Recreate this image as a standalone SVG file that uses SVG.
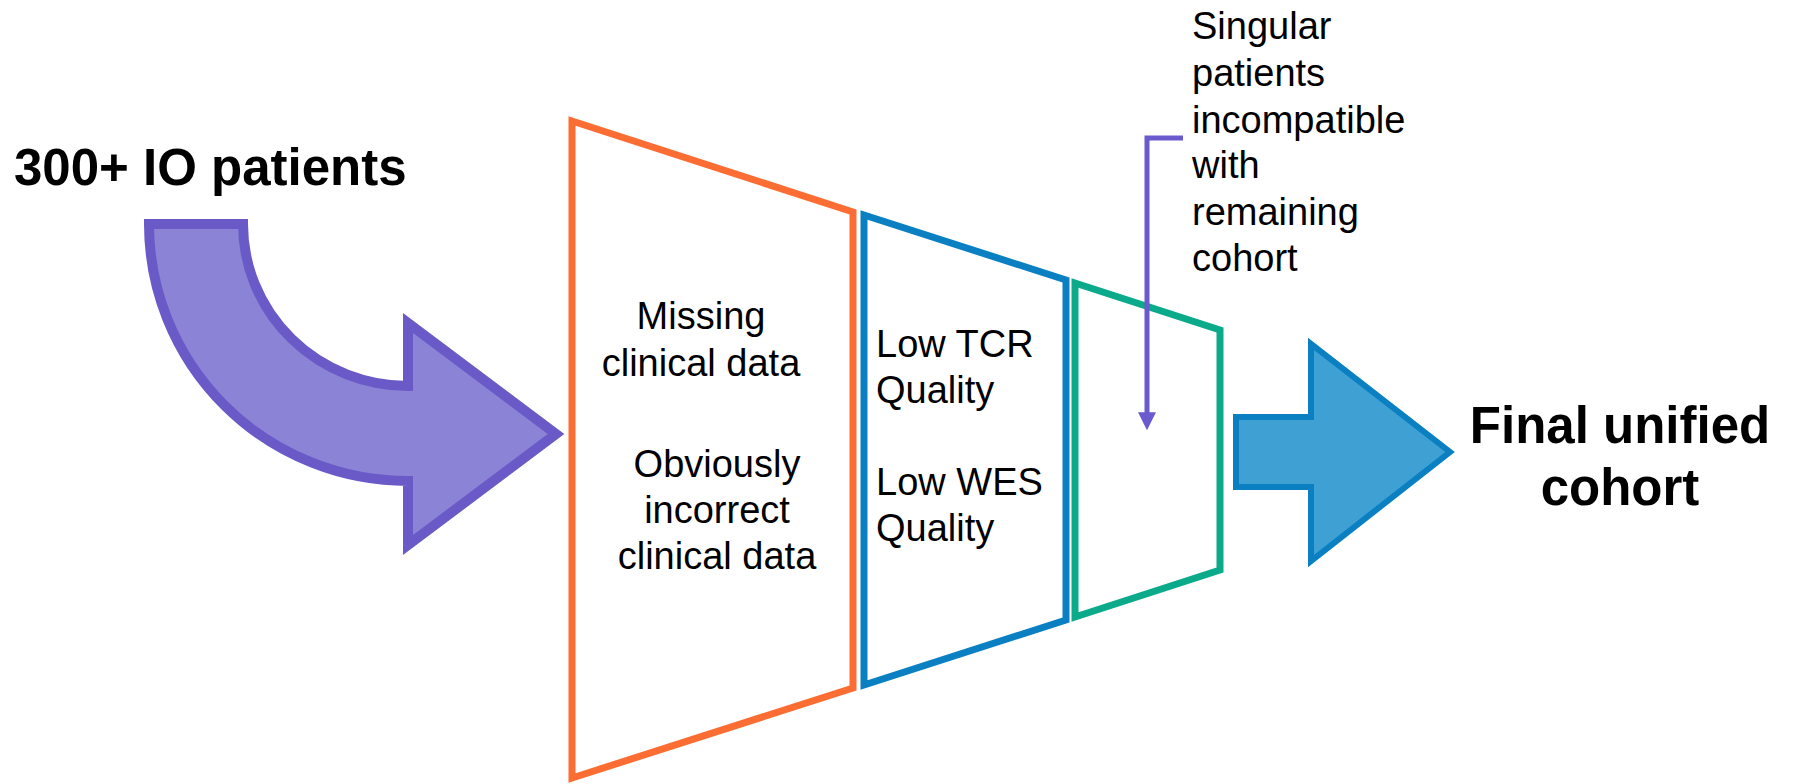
<svg xmlns="http://www.w3.org/2000/svg" width="1794" height="784" viewBox="0 0 1794 784">
  <style>
    .lbl { font-family: "Liberation Sans", Arial, sans-serif; font-size: 38px; fill: #000; }
    .title { font-family: "Liberation Sans", Arial, sans-serif; font-size: 51px; font-weight: bold; fill: #000; }
    .stage { fill: #fff; stroke-width: 7; stroke-linejoin: miter; }
  </style>
  <defs>
    <marker id="tip" viewBox="0 0 10 10" refX="1" refY="5" markerWidth="18" markerHeight="18" markerUnits="userSpaceOnUse" orient="auto">
      <path d="M0,0 L10,5 L0,10 Z" fill="#6A5ACD"/>
    </marker>
  </defs>
  <rect width="1794" height="784" fill="#fff"/>

  <!-- input: curved arrow with title -->
  <g id="input">
    <text class="title" x="14" y="185">300+ IO patients</text>
    <path d="M149,224 L243,224 A165,162 0 0 0 408,386 L408,323 L556,434 L408,545 L408,481 A259,257 0 0 1 149,224 Z" fill="#8B84D6" stroke="#6A5AC8" stroke-width="10" stroke-linejoin="miter"/>
  </g>

  <!-- stage 1: clinical data filters -->
  <g id="stage-clinical">
    <polygon class="stage" points="572,121 853,212 853,688 572,778" stroke="#FB6D33"/>
    <text class="lbl" text-anchor="middle" x="701" y="329">Missing</text>
    <text class="lbl" text-anchor="middle" x="701" y="376">clinical data</text>
    <text class="lbl" text-anchor="middle" x="717" y="477">Obviously</text>
    <text class="lbl" text-anchor="middle" x="717" y="523">incorrect</text>
    <text class="lbl" text-anchor="middle" x="717" y="569">clinical data</text>
  </g>

  <!-- stage 2: sequencing quality filters -->
  <g id="stage-quality">
    <polygon class="stage" points="864,215 1066,280 1066,620 864,685" stroke="#0A80C2"/>
    <text class="lbl" x="876" y="357">Low TCR</text>
    <text class="lbl" x="876" y="403">Quality</text>
    <text class="lbl" x="876" y="495">Low WES</text>
    <text class="lbl" x="876" y="541">Quality</text>
  </g>

  <!-- stage 3: compatibility filter -->
  <g id="stage-compat">
    <polygon class="stage" points="1075,283 1220,330 1220,570 1075,617" stroke="#0BAA8A"/>
  </g>

  <!-- note for stage 3 -->
  <g id="note">
    <text class="lbl" x="1192" y="39">Singular</text>
    <text class="lbl" x="1192" y="86">patients</text>
    <text class="lbl" x="1192" y="133">incompatible</text>
    <text class="lbl" x="1192" y="178">with</text>
    <text class="lbl" x="1192" y="225">remaining</text>
    <text class="lbl" x="1192" y="271">cohort</text>
  </g>

  <!-- output arrow and title -->
  <g id="output">
    <path d="M1236,417 L1311,417 L1311,344 L1450,452 L1311,561 L1311,487 L1236,487 Z" fill="#3FA1D3" stroke="#0A80C2" stroke-width="6" stroke-linejoin="miter"/>
    <text class="title" text-anchor="middle" x="1620" y="443">Final unified</text>
    <text class="title" text-anchor="middle" x="1620" y="505">cohort</text>
  </g>

  <g id="connectors">
    <path d="M1183,138 H1147 V414" fill="none" stroke="#6A5ACD" stroke-width="5" marker-end="url(#tip)"/>
  </g>
</svg>
